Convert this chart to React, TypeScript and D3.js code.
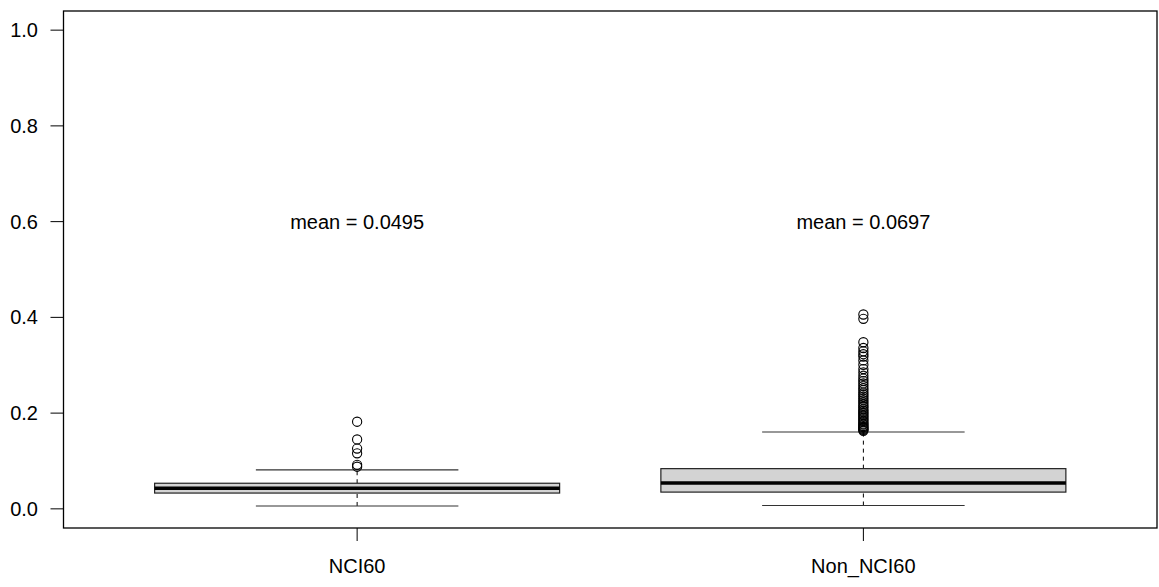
import React from "react";
import * as d3 from "d3";

const categories = ["NCI60", "Non_NCI60"];
const means = ["0.0495", "0.0697"];
// [lowerWhisker, q1, median, q3, upperWhisker]
const stats = [
  [0.006, 0.033, 0.043, 0.0535, 0.0815],
  [0.007, 0.035, 0.054, 0.084, 0.1605],
];
const outliersNCI60 = [0.182, 0.145, 0.126, 0.116, 0.092, 0.088];
const outliersNon = [
  0.406, 0.397, 0.348, 0.336, 0.329, 0.323, 0.318, 0.31, 0.301, 0.292, 0.285,
  0.278, 0.272, 0.267, 0.262, 0.257, 0.252, 0.248, 0.243, 0.239, 0.235, 0.231,
  0.227, 0.223, 0.219, 0.215, 0.212, 0.208, 0.205, 0.202, 0.199, 0.196, 0.193,
  0.19, 0.187, 0.184, 0.181, 0.178, 0.176, 0.173, 0.171, 0.169, 0.167, 0.165,
  0.163,
];
const outliers = [outliersNCI60, outliersNon];
const yTicks = [0, 0.2, 0.4, 0.6, 0.8, 1.0];
const meanLabelY = 0.6;

export default function App() {
  const W = 1159;
  const H = 587;
  const left = 63.5, right = 1157, top = 11, bottom = 528;
  const x = d3.scaleLinear().domain([0.42, 2.58]).range([left, right]);
  const y = d3.scaleLinear().domain([-0.04, 1.04]).range([bottom, top]);
  const font = "'Liberation Sans', Arial, Helvetica, sans-serif";
  const halfBox = x(1.4) - x(1);
  const halfStaple = halfBox / 2;

  return (
    <svg
      width={W}
      height={H}
      style={{ position: "absolute", left: 0, top: 0, background: "#fff" }}
      fontFamily={font}
    >
      {categories.map((c, i) => {
        const cx = x(i + 1);
        const [lw, q1, med, q3, uw] = stats[i];
        return (
          <g key={c}>
            <line x1={cx} x2={cx} y1={y(q3)} y2={y(uw)} stroke="#000" strokeWidth={1} strokeDasharray="4,4" />
            <line x1={cx} x2={cx} y1={y(lw)} y2={y(q1)} stroke="#000" strokeWidth={1} strokeDasharray="4,4" />
            <line x1={cx - halfStaple} x2={cx + halfStaple} y1={y(uw)} y2={y(uw)} stroke="#333" strokeWidth={1.2} />
            <line x1={cx - halfStaple} x2={cx + halfStaple} y1={y(lw)} y2={y(lw)} stroke="#333" strokeWidth={1.2} />
            <rect
              x={cx - halfBox}
              y={y(q3)}
              width={2 * halfBox}
              height={y(q1) - y(q3)}
              fill="#d3d3d3"
              stroke="#222"
              strokeWidth={1.2}
            />
            <line x1={cx - halfBox} x2={cx + halfBox} y1={y(med)} y2={y(med)} stroke="#000" strokeWidth={3.5} />
            {outliers[i].map((v, j) => (
              <circle key={j} cx={cx} cy={y(v)} r={4.6} fill="none" stroke="#000" strokeWidth={1.1} />
            ))}
            <text x={cx} y={y(meanLabelY)} fontSize={20} textAnchor="middle" dominantBaseline="central">
              {"mean = " + means[i]}
            </text>
            <line x1={cx} x2={cx} y1={bottom} y2={bottom + 13} stroke="#000" strokeWidth={1} />
            <text x={cx} y={572.5} fontSize={20} textAnchor="middle">
              {c}
            </text>
          </g>
        );
      })}
      {yTicks.map((t) => (
        <g key={t}>
          <line x1={left - 13} x2={left} y1={y(t)} y2={y(t)} stroke="#000" strokeWidth={1} />
          <text x={38} y={y(t)} fontSize={20} textAnchor="end" dominantBaseline="central">
            {t.toFixed(1)}
          </text>
        </g>
      ))}
      <rect x={left} y={top} width={right - left} height={bottom - top} fill="none" stroke="#000" strokeWidth={1.3} />
    </svg>
  );
}
